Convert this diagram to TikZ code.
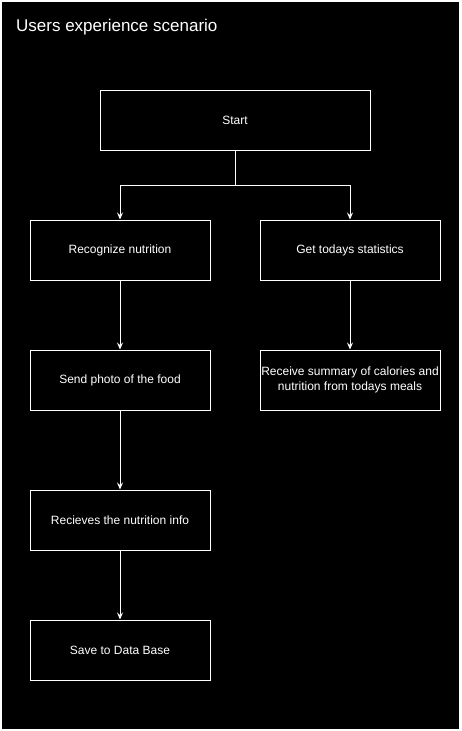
\documentclass[tikz,border=0pt]{standalone}
\usepackage{fontspec}
\setmainfont{Liberation Sans}
\usetikzlibrary{arrows.meta}
\begin{document}
\begin{tikzpicture}[x=1pt,y=-1pt,
  box/.style={draw=white,line width=1pt,fill=black,text=white,minimum width=180pt,minimum height=60pt,inner sep=1pt,align=center,font=\fontsize{12}{15}\selectfont},
  conn/.style={draw=white,line width=1pt,-{Stealth[length=7pt,width=6pt,inset=2.5pt]}}]
\useasboundingbox (0,0) rectangle (461,731);
\fill[white] (0,0) rectangle (461,731);
\draw[white,fill=black,line width=1pt] (1.5,1.5) rectangle (459.5,729.5);
\node[anchor=west,text=white,font=\fontsize{17}{20}\selectfont,inner sep=0pt] (title) at (16,27) {Users experience scenario};
\node[box,minimum width=270pt] (start) at (235,120) {Start};
\node[box] (rec) at (120,250) {Recognize nutrition};
\node[box] (get) at (350,250) {Get todays statistics};
\node[box] (send) at (120,380) {Send photo of the food};
\node[box] (summ) at (350,380) {Receive summary of calories and\\nutrition from todays meals};
\node[box] (info) at (120,520) {Recieves the nutrition info};
\node[box] (save) at (120,650) {Save to Data Base};
\coordinate (br) at (235,185);
\draw[conn] (start.south) -- (br) -| (rec.north);
\draw[conn] (br) -| (get.north);
\draw[conn] (rec) -- (send);
\draw[conn] (get) -- (summ);
\draw[conn] (send) -- (info);
\draw[conn] (info) -- (save);
\end{tikzpicture}
\end{document}
